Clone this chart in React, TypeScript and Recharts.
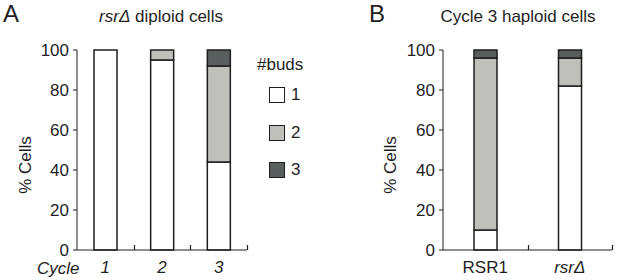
import { BarChart, Bar, XAxis, YAxis, Legend } from 'recharts';

// panel A: rsrΔ diploid cells, % cells with 1/2/3 buds per cycle
const cycleLabels = ['1', '2', '3'];
const diploidOneBud = [100, 95, 44];
const diploidTwoBuds = [0, 5, 48];
const diploidThreeBuds = [0, 0, 8];

// panel B: cycle 3 haploid cells
const strainLabels = ['RSR1', 'rsrΔ'];
const haploidOneBud = [10, 82];
const haploidTwoBuds = [86, 14];
const haploidThreeBuds = [4, 4];

const budLabels = ['1', '2', '3'];
const percentTicks = [0, 20, 40, 60, 80, 100];

const budFills = ['#ffffff', '#bfbfbc', '#5a5e5e'];
const FONT = '"Liberation Sans", Arial, Helvetica, sans-serif';
const INK = '#1e1e1e';
const LABEL_GAP = 11;

// chart geometry
const A_SIZE = { width: 310, yAxis: 77, right: 63 };
const B_SIZE = { width: 307, yAxis: 133, right: 5 };

const diploidData = cycleLabels.map((name, i) => ({
  name,
  b1: diploidOneBud[i],
  b2: diploidTwoBuds[i],
  b3: diploidThreeBuds[i],
}));

const haploidData = strainLabels.map((name, i) => ({
  name,
  b1: haploidOneBud[i],
  b2: haploidTwoBuds[i],
  b3: haploidThreeBuds[i],
}));

// category label plus a short upward tick at the right edge of its band
function BandTick(props: any) {
  const { payload, half } = props;
  const x = Number(props.x);
  const y = Number(props.y);
  const edge = Math.round(x + half) + 0.5;
  const axisY = y - LABEL_GAP;
  const italic = payload.value !== 'RSR1';
  return (
    <g>
      <path d={`M${edge},${axisY}V${axisY - 5}`} stroke={INK} strokeWidth={1.2} fill="none" />
      <text x={x} y={y} dy="0.71em" textAnchor="middle" fontSize={17} fill={INK} fontStyle={italic ? 'italic' : 'normal'}>
        {payload.value}
      </text>
    </g>
  );
}

function BudLegend({ payload }: any) {
  return (
    <div style={{ position: 'relative', width: 60, height: 130, fontFamily: FONT, fontSize: 17, color: INK }}>
      <div style={{ position: 'absolute', left: 0, top: 4, lineHeight: '17px' }}>#buds</div>
      {(payload || []).map((entry: any, i: number) => (
        <div key={i} style={{ position: 'absolute', left: 12, top: 35 + i * 37.5, display: 'flex', alignItems: 'center', height: 16 }}>
          <span style={{ display: 'inline-block', boxSizing: 'border-box', width: 16, height: 16, border: `1.5px solid ${INK}`, background: budFills[i] }} />
          <span style={{ marginLeft: 6, lineHeight: '16px' }}>{entry.value}</span>
        </div>
      ))}
    </div>
  );
}

const textBase: any = { position: 'absolute', fontFamily: FONT, color: INK, lineHeight: '17px', fontSize: 17, whiteSpace: 'nowrap' };

function StackBars() {
  return [0, 1, 2].map((i) => (
    <Bar
      key={i}
      dataKey={`b${i + 1}`}
      name={budLabels[i]}
      stackId="buds"
      fill={budFills[i]}
      stroke={INK}
      strokeWidth={1.5}
      barSize={23}
      isAnimationActive={false}
    />
  ));
}

function PercentAxis({ width }: { width: number }) {
  return (
    <YAxis
      width={width}
      domain={[0, 100]}
      ticks={percentTicks}
      interval={0}
      tickSize={4}
      tickMargin={4}
      axisLine={{ stroke: INK }}
      tickLine={{ stroke: INK }}
      tick={{ fill: INK, fontSize: 17 }}
    />
  );
}

function CategoryAxis({ half }: { half: number }) {
  return (
    <XAxis
      dataKey="name"
      height={30}
      tickLine={false}
      tickSize={0}
      tickMargin={LABEL_GAP}
      interval={0}
      axisLine={{ stroke: INK }}
      tick={(p: any) => <BandTick {...p} half={half} />}
    />
  );
}

export default function App() {
  const aHalf = (A_SIZE.width - A_SIZE.yAxis - A_SIZE.right) / cycleLabels.length / 2;
  const bHalf = (B_SIZE.width - B_SIZE.yAxis - B_SIZE.right) / strainLabels.length / 2;
  return (
    <div style={{ position: 'absolute', left: 0, top: 0, width: 617, height: 280, background: '#fff', fontFamily: FONT, overflow: 'hidden' }}>
      {/* panel A */}
      <div style={{ position: 'absolute', left: 0, top: 0 }}>
        <BarChart width={A_SIZE.width} height={280} data={diploidData} margin={{ top: 50, right: A_SIZE.right, left: 0, bottom: 0 }}>
          {CategoryAxis({ half: aHalf })}
          {PercentAxis({ width: A_SIZE.yAxis })}
          <Legend
            layout="horizontal"
            align="center"
            verticalAlign="middle"
            content={<BudLegend />}
            wrapperStyle={{ left: 257, top: 52, width: 60, height: 130 }}
          />
          {StackBars()}
        </BarChart>
      </div>

      {/* panel B */}
      <div style={{ position: 'absolute', left: 310, top: 0 }}>
        <BarChart width={B_SIZE.width} height={280} data={haploidData} margin={{ top: 50, right: B_SIZE.right, left: 0, bottom: 0 }}>
          {CategoryAxis({ half: bHalf })}
          {PercentAxis({ width: B_SIZE.yAxis })}
          {StackBars()}
        </BarChart>
      </div>

      {/* panel letters, titles and axis captions */}
      <div style={{ ...textBase, left: 3, top: 2, fontSize: 24, lineHeight: '24px' }}>A</div>
      <div style={{ ...textBase, left: 369, top: 2, fontSize: 24, lineHeight: '24px' }}>B</div>
      <div style={{ ...textBase, left: 161, top: 8, transform: 'translateX(-50%)' }}>
        <i>rsrΔ</i> diploid cells
      </div>
      <div style={{ ...textBase, left: 518, top: 8, transform: 'translateX(-50%)' }}>Cycle 3 haploid cells</div>
      <div style={{ ...textBase, left: 25, top: 165, transform: 'translate(-50%, -50%) rotate(-90deg)' }}>% Cells</div>
      <div style={{ ...textBase, left: 390, top: 165, transform: 'translate(-50%, -50%) rotate(-90deg)' }}>% Cells</div>
      <div style={{ ...textBase, left: 37, top: 262.5, lineHeight: '12px', fontStyle: 'italic' }}>Cycle</div>
    </div>
  );
}
